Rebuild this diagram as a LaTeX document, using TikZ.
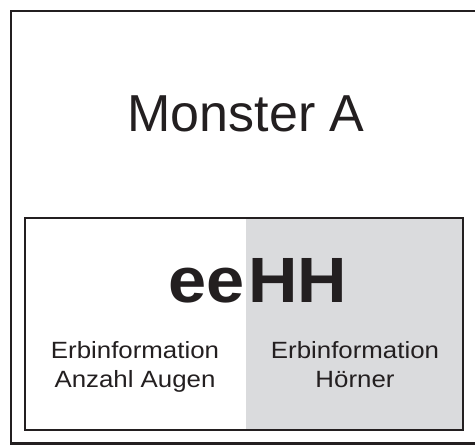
\documentclass[tikz,border=0pt]{standalone}
\usepackage{fontspec}
\setmainfont{Liberation Sans}
\newfontfamily\widefont[FakeStretch=1.1]{Liberation Sans}
\newfontfamily\boldwide[FakeStretch=1.07]{Liberation Sans}
\definecolor{inkc}{HTML}{231F20}
\definecolor{grayfill}{HTML}{DADBDD}
\tikzset{
  frame/.style={draw=inkc, line width=2.4pt},
  title/.style={inner sep=0pt, anchor=base, text=inkc, font=\fontsize{52}{60}\selectfont},
  gene/.style={inner sep=0pt, text=inkc, font=\boldwide\bfseries\fontsize{64}{70}\selectfont},
  info/.style={inner sep=0pt, anchor=base, text=inkc, align=center,
    font=\widefont\fontsize{23.5}{29}\selectfont},
}
\begin{document}
\begin{tikzpicture}[x=1pt,y=-1pt]
\useasboundingbox (0,0) rectangle (475,446);
% outer frame (right edge lies outside the picture)
\draw[frame] (476,11) -- (11,11) -- (11,443.5) -- (476,443.5);
% inner box
\fill[grayfill] (246,218) rectangle (463,430);
\draw[frame] (25,218) rectangle (463,430);
\node[title] (title) at (246,132) {Monster A};
\node[gene, anchor=base east] (ee) at (244.5,303) {ee};
\node[gene, anchor=base west] (hh) at (248,303) {HH};
\node[info] (augen) at (135,388) {Erbinformation\\Anzahl Augen};
\node[info] (hoerner) at (355,388) {Erbinformation\\Hörner};
\end{tikzpicture}
\end{document}
